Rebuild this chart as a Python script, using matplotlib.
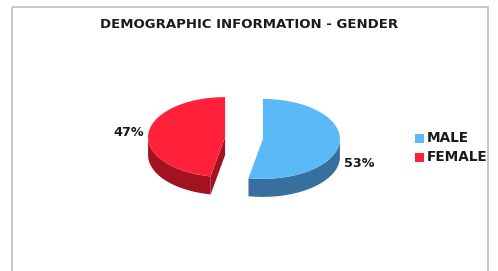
import numpy as np
import matplotlib
matplotlib.use("Agg")
import matplotlib.pyplot as plt
from matplotlib.patches import Polygon, Rectangle

title = "DEMOGRAPHIC INFORMATION - GENDER"
labels = ["MALE", "FEMALE"]
values = [53, 47]
top_colors = ["#5cb9f7", "#fe2139"]
side_colors = ["#37709e", "#a3131f"]

# pie geometry in pixel units
cx, cy = 244, 138
a, b = 77, 40
depth = 18
explode = 19

fig = plt.figure(figsize=(4.98, 2.71), dpi=100)
ax = fig.add_axes([0, 0, 1, 1])
ax.set_xlim(0, 498)
ax.set_ylim(271, 0)
ax.axis("off")

# frame around chart
ax.add_patch(Rectangle((12, 7), 476, 280, fill=False, ec="#bdbdbd", lw=1.2))

ax.text(249, 24, title, ha="center", va="center", fontsize=9.5,
        fontweight="bold", color="#1a1a1a")


def pt(ox, oy, t):
    return ox + a * np.cos(t), oy - b * np.sin(t)


# male goes clockwise from 12 o'clock, female counter-clockwise
total = float(sum(values))
spans = []
ang = np.pi / 2
male_sweep = 2 * np.pi * values[0] / total
spans.append((ang - male_sweep, ang))
spans.append((ang, ang + 2 * np.pi * values[1] / total))

for i, (t1, t2) in enumerate(spans):
    mid = (t1 + t2) / 2
    ox = cx + explode * np.cos(mid)
    oy = cy - explode * 0.5 * np.sin(mid)

    # outer side wall (front half only)
    ts = np.linspace(t1, t2, 200)
    front = ts[np.sin(ts) < 0]
    if len(front):
        xs, ys = pt(ox, oy, front)
        poly = list(zip(xs, ys)) + list(zip(xs[::-1], ys[::-1] + depth))
        ax.add_patch(Polygon(poly, closed=True, fc=side_colors[i], ec="none"))

    # radial walls that face the viewer
    for t, sgn in ((t1, -1), (t2, 1)):
        nrm = t + sgn * np.pi / 2
        if np.sin(nrm) < -1e-6:
            ex, ey = pt(ox, oy, t)
            poly = [(ox, oy), (ex, ey), (ex, ey + depth), (ox, oy + depth)]
            ax.add_patch(Polygon(poly, closed=True, fc=side_colors[i], ec="none"))

    # top face
    xs, ys = pt(ox, oy, ts)
    poly = [(ox, oy)] + list(zip(xs, ys))
    ax.add_patch(Polygon(poly, closed=True, fc=top_colors[i], ec="none"))

    # percentage label
    lx = cx + a * 1.5 * np.cos(mid)
    ly = cy - b * 1.5 * np.sin(mid) + (depth + 2 if np.sin(mid) < 0 else 0)
    ax.text(lx, ly, f"{values[i]}%", ha="center", va="center", fontsize=9.2,
            fontweight="bold", color="#1a1a1a")

# legend
for i, lab in enumerate(labels):
    y = 138 + i * 19
    ax.add_patch(Rectangle((415, y - 4.5), 9, 9, fc=top_colors[i], ec="none"))
    ax.text(427, y, lab, ha="left", va="center", fontsize=9.8,
            fontweight="bold", color="#1a1a1a")

fig.savefig("out.png", dpi=100)
